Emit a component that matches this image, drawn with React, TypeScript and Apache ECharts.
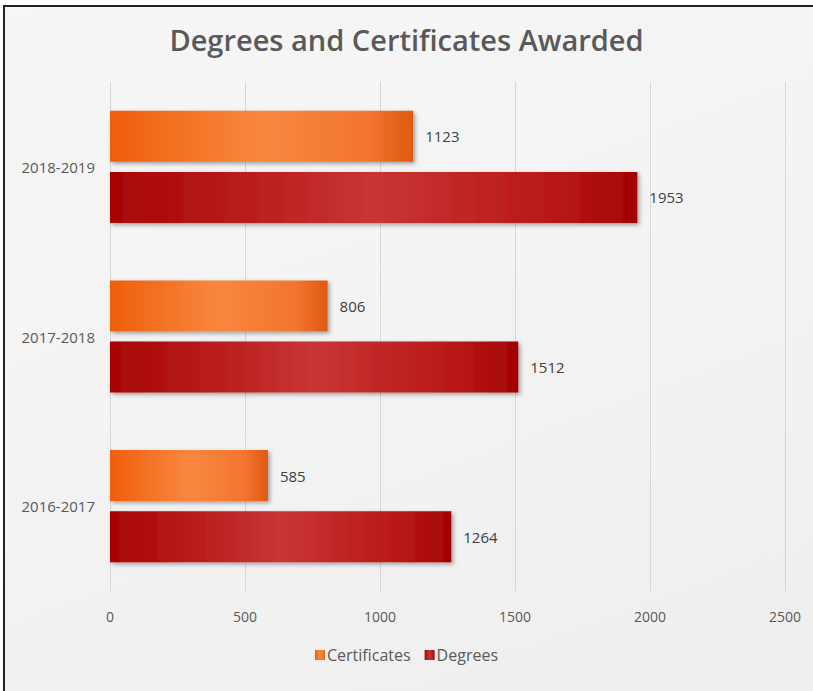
import React, { useEffect, useRef } from "react";
import * as echarts from "echarts";

const categories = ["2016-2017", "2017-2018", "2018-2019"];
const certificates = [585, 806, 1123];
const degrees = [1264, 1512, 1953];
const xTicks = { min: 0, max: 2500, interval: 500 };
const titleText = "Degrees and Certificates Awarded";

const FONT = "'Open Sans', 'Noto Sans', sans-serif";

const orangeGrad = new echarts.graphic.LinearGradient(0, 0, 1, 0, [
  { offset: 0, color: "#ee5f0c" },
  { offset: 0.5, color: "#f9873f" },
  { offset: 0.85, color: "#f27530" },
  { offset: 1, color: "#e05a10" },
]);
const redGrad = new echarts.graphic.LinearGradient(0, 0, 1, 0, [
  { offset: 0, color: "#a80404" },
  { offset: 0.5, color: "#c83535" },
  { offset: 0.85, color: "#b81717" },
  { offset: 1, color: "#a30303" },
]);

export default function App() {
  const ref = useRef<HTMLDivElement>(null);
  useEffect(() => {
    if (!ref.current) return;
    const chart = echarts.init(ref.current, null, { renderer: "svg" });
    chart.setOption({
      animation: false,
      backgroundColor: "transparent",
      textStyle: { fontFamily: FONT },
      title: {
        text: titleText,
        left: "center",
        top: 20,
        textStyle: { fontFamily: FONT, fontSize: 29, fontWeight: 600, color: "#595959" },
      },
      legend: {
        data: ["Certificates", "Degrees"],
        bottom: 23,
        left: "center",
        icon: "rect",
        itemWidth: 10,
        itemHeight: 10,
        itemGap: 14,
        textStyle: { fontFamily: FONT, fontSize: 16, color: "#595959", padding: [0, 0, 0, -3] },
      },
      grid: { left: 110, right: 28, top: 82, bottom: 100, containLabel: false },
      xAxis: {
        type: "value",
        min: xTicks.min,
        max: xTicks.max,
        interval: xTicks.interval,
        axisLine: { show: false },
        axisTick: { show: false },
        axisLabel: {
          color: "#595959",
          fontSize: 14,
          margin: 18,
          fontFamily: FONT,
          formatter: (v: number) => String(v),
        },
        splitLine: { show: true, lineStyle: { color: "#d6d6d6", width: 1 } },
      },
      yAxis: {
        type: "category",
        data: categories,
        axisLine: { show: false },
        axisTick: { show: false },
        axisLabel: { color: "#595959", fontSize: 15, margin: 15, fontFamily: FONT },
      },
      series: [
        {
          name: "Certificates",
          type: "bar",
          data: certificates,
          barWidth: 51,
          barGap: "20%",
          itemStyle: {
            color: orangeGrad,
            shadowColor: "rgba(0,0,0,0.35)",
            shadowBlur: 4,
            shadowOffsetX: 2,
            shadowOffsetY: 2,
          },
          label: {
            show: true,
            position: "right",
            distance: 12,
            color: "#404040",
            fontSize: 15,
            fontFamily: FONT,
          },
        },
        {
          name: "Degrees",
          type: "bar",
          data: degrees,
          barWidth: 51,
          barGap: "20%",
          itemStyle: {
            color: redGrad,
            shadowColor: "rgba(0,0,0,0.35)",
            shadowBlur: 4,
            shadowOffsetX: 2,
            shadowOffsetY: 2,
          },
          label: {
            show: true,
            position: "right",
            distance: 12,
            color: "#404040",
            fontSize: 15,
            fontFamily: FONT,
          },
        },
      ],
    });
    return () => chart.dispose();
  }, []);
  return (
    <div style={{ position: "fixed", left: 0, top: 0, width: 813, height: 691, background: "#ffffff" }}>
      <div
        style={{
          position: "absolute",
          left: 3,
          top: 5,
          right: 0,
          bottom: 0,
          borderLeft: "2px solid #222",
          borderTop: "2px solid #222",
          background: "linear-gradient(160deg, #f6f6f6 0%, #f3f3f3 50%, #eeeeee 100%)",
        }}
      />
      <div ref={ref} style={{ position: "absolute", left: 0, top: 0, width: 813, height: 691 }} />
    </div>
  );
}
